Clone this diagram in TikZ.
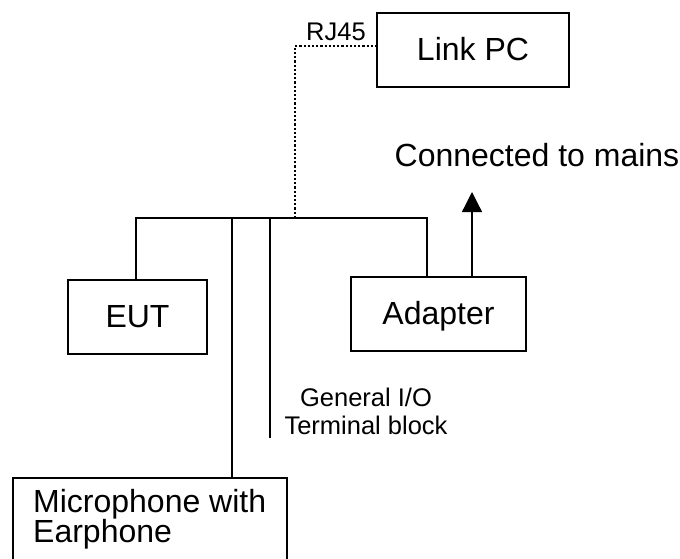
\documentclass[tikz,border=0pt]{standalone}
\usepackage{fontspec}
\setmainfont{Liberation Sans}
\usetikzlibrary{arrows.meta}
\begin{document}
\begin{tikzpicture}[x=1pt,y=-1pt,
  box/.style={draw, line width=1.5pt, rectangle, inner sep=0pt, text height=22pt, text depth=2pt},
  big/.style={font=\fontsize{32}{30}\selectfont},
  small/.style={font=\fontsize{25.5}{28}\selectfont},
  wire/.style={line width=1.3pt},
  lan/.style={line width=2.2pt, dash pattern=on 2.2pt off 2pt}]
  \useasboundingbox (0,0) rectangle (680,558);

  % equipment boxes
  \node[box, big, minimum width=192, minimum height=74] (pc) at (473,50) {Link PC};
  \node[box, big, minimum width=139, minimum height=74] (eut) at (137.5,317) {EUT};
  \node[box, big, minimum width=175, minimum height=74] (adapter) at (438.5,314) {Adapter};
  \node[box, anchor=north west, minimum width=274, minimum height=110] (mic) at (12,477) {};
  \node[big, anchor=base west, align=left, inner sep=0pt] (mictext) at (33,542) {Microphone with\\Earphone};

  % labels
  \node[small, anchor=base, inner sep=0pt] (rj) at (336,40) {RJ45};
  \node[big, anchor=base, inner sep=0pt] (mains) at (537,166) {Connected to mains};
  \node[small, anchor=base, align=center, inner sep=0pt] (gio) at (366,434) {General I/O\\Terminal block};

  % bus and taps
  \coordinate (busL) at (136,218);
  \coordinate (busR) at (427,218);
  \coordinate (tapMic) at (232,218);
  \coordinate (tapIO) at (270,218);
  \coordinate (tapLan) at (295,218);
  \coordinate (ioEnd) at (270,438);
  \coordinate (lanCorner) at (295,46);
  \coordinate (arrowTip) at (472,192);

  \draw[wire] (eut.north -| busL) -- (busL) -- (busR) -- (adapter.north -| busR);
  \draw[wire] (tapMic) -- (mic.north -| tapMic);
  \draw[wire] (tapIO) -- (ioEnd);
  \draw[lan] (tapLan) -- (lanCorner) -- (pc.west |- lanCorner);
  \draw[wire, -{Triangle[length=20pt, width=20pt]}] (adapter.north -| arrowTip) -- (arrowTip);
\end{tikzpicture}
\end{document}
